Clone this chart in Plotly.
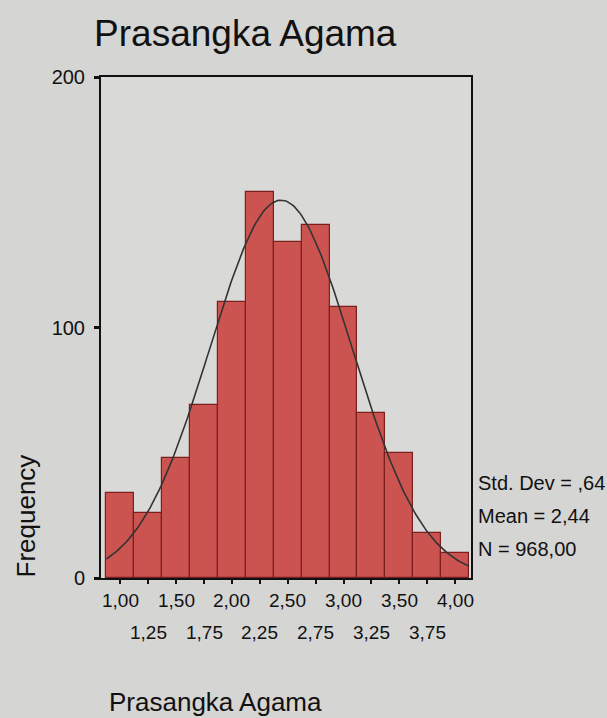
import numpy as np
import plotly.graph_objects as go

# ---- data ----
bin_centers = [1.00, 1.25, 1.50, 1.75, 2.00, 2.25, 2.50, 2.75, 3.00, 3.25, 3.50, 3.75, 4.00]
frequencies = [34, 26, 48, 69, 110, 154, 134, 141, 108, 66, 50, 18, 10]
tick_row1_vals = [1.00, 1.50, 2.00, 2.50, 3.00, 3.50, 4.00]
tick_row1_text = ["1,00", "1,50", "2,00", "2,50", "3,00", "3,50", "4,00"]
tick_row2_vals = [1.25, 1.75, 2.25, 2.75, 3.25, 3.75]
tick_row2_text = ["1,25", "1,75", "2,25", "2,75", "3,25", "3,75"]
y_tick_vals = [0, 100, 200]
y_tick_text = ["0", "100", "200"]
std_dev = 0.64
mean = 2.44
n_total = 968
stats_text = ["Std. Dev = ,64", "Mean = 2,44", "N = 968,00"]
bin_width = 0.25

FONT = "Liberation Sans, Arial, sans-serif"
BG = "#d5d5d3"

fig = go.Figure()
fig.add_trace(go.Bar(
    x=bin_centers, y=frequencies, width=bin_width,
    marker=dict(color="#cb5450", line=dict(color="#7a1e1e", width=1.2)),
    hoverinfo="x+y",
))

# normal curve from displayed statistics
xs = np.linspace(bin_centers[0] - bin_width / 2, bin_centers[-1] + bin_width / 2, 200)
ys = n_total * bin_width / (std_dev * np.sqrt(2 * np.pi)) * np.exp(-0.5 * ((xs - mean) / std_dev) ** 2)
fig.add_trace(go.Scatter(x=xs, y=ys, mode="lines", line=dict(color="#333333", width=1.6)))

# x tick labels in two staggered rows
for v, t in zip(tick_row1_vals, tick_row1_text):
    fig.add_annotation(x=v, y=0, xref="x", yref="paper", text=t, showarrow=False,
                       yanchor="top", yshift=-10, font=dict(size=19, color="#111", family=FONT))
for v, t in zip(tick_row2_vals, tick_row2_text):
    fig.add_annotation(x=v, y=0, xref="x", yref="paper", text=t, showarrow=False,
                       yanchor="top", yshift=-42, font=dict(size=19, color="#111", family=FONT))

# statistics text
for i, t in enumerate(stats_text):
    fig.add_annotation(x=1.0, y=0, xref="paper", yref="paper", text=t, showarrow=False,
                       xanchor="left", yanchor="middle", xshift=5, yshift=95 - 33 * i,
                       font=dict(size=20, color="#111", family=FONT))

# axis titles
fig.add_annotation(x=0, y=0, xref="paper", yref="paper", text="Frequency", showarrow=False,
                   textangle=-90, xanchor="center", yanchor="bottom", xshift=-76, yshift=-2,
                   font=dict(size=26, color="#111", family=FONT))
fig.add_annotation(x=0, y=0, xref="paper", yref="paper", text="Prasangka Agama", showarrow=False,
                   xanchor="left", yanchor="middle", xshift=6, yshift=-124,
                   font=dict(size=26, color="#111", family=FONT))

fig.update_layout(
    width=607, height=718,
    paper_bgcolor=BG, plot_bgcolor="#d9d9d7",
    margin=dict(l=101, r=136, t=77, b=140),
    showlegend=False,
    bargap=0,
    title=dict(text="Prasangka Agama", x=0.155, xanchor="left", y=0.954, yanchor="middle",
               font=dict(size=37, color="#111", family=FONT)),
)
fig.update_xaxes(range=[0.826, 4.143], tickvals=bin_centers, ticktext=[""] * len(bin_centers),
                 ticks="outside", ticklen=4, tickwidth=2, tickcolor="#111",
                 showline=True, linecolor="#111", linewidth=2, mirror=True,
                 showgrid=False, zeroline=False)
fig.update_yaxes(range=[0, 200], tickvals=y_tick_vals, ticktext=y_tick_text,
                 ticks="outside", ticklen=5, tickwidth=3, tickcolor="#111",
                 tickfont=dict(size=20, color="#111", family=FONT),
                 ticklabelstandoff=5,
                 showline=True, linecolor="#111", linewidth=2, mirror=True,
                 showgrid=False, zeroline=False)

fig.write_html("out.html", config={"displayModeBar": False},
               post_script="document.body.style.margin='0';")
